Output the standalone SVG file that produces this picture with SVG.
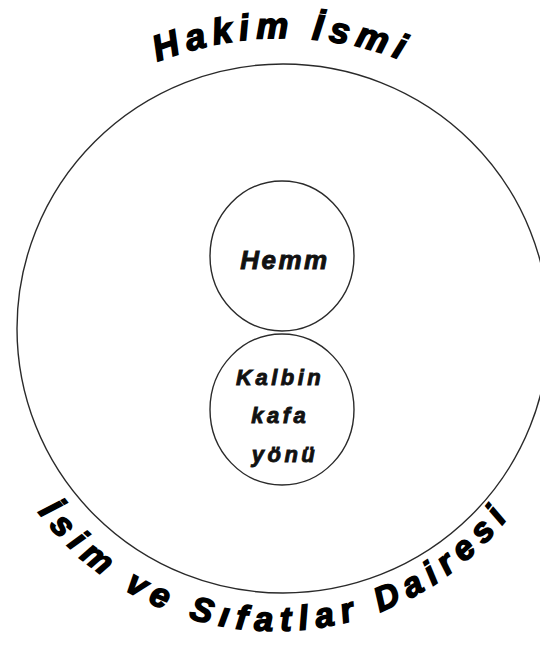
<svg xmlns="http://www.w3.org/2000/svg" width="540" height="652" viewBox="0 0 540 652">
  <style>
    .ring { fill: none; stroke: #2a2a2a; stroke-width: 1.4; }
    .inner { font-family: "Liberation Sans", Arial, sans-serif; font-weight: bold; font-style: italic; fill: #111; text-anchor: middle; stroke: #111; stroke-width: 0.9; }
    .arc { font-family: "Liberation Sans", Arial, sans-serif; font-weight: bold; font-style: italic; fill: #000; stroke: #000; stroke-width: 1.6; }
  </style>
  <defs>
    <path id="topArc" d="M -53 373 A 335 335 0 0 1 617 373"/>
    <path id="bottomArc" d="M -21 335 A 296 296 0 0 0 571 335"/>
  </defs>
  <rect width="540" height="652" fill="#ffffff"/>
  <g id="connectors"/>
  <g id="isim-ve-sifatlar-dairesi">
    <ellipse class="ring" cx="283" cy="328.5" rx="266" ry="264.5"/>
    <text class="arc" font-size="36" letter-spacing="6.5"><textPath href="#topArc" startOffset="50%" text-anchor="middle">Hakim İsmi</textPath></text>
    <text class="arc" font-size="34" letter-spacing="7.8"><textPath href="#bottomArc" startOffset="50%" text-anchor="middle">İsim ve Sıfatlar Dairesi</textPath></text>
  </g>
  <g id="hemm">
    <ellipse class="ring" cx="282" cy="256" rx="72" ry="75"/>
    <text class="inner" x="285" y="269" font-size="26" letter-spacing="2.5">Hemm</text>
  </g>
  <g id="kalbin-kafa-yonu">
    <ellipse class="ring" cx="282" cy="409.5" rx="72" ry="75.5"/>
    <text class="inner" font-size="22" letter-spacing="3.5">
      <tspan x="285" y="385">Kalbin</tspan>
      <tspan x="285" y="423">kafa</tspan>
      <tspan x="285" y="462">yönü</tspan>
    </text>
  </g>
</svg>
